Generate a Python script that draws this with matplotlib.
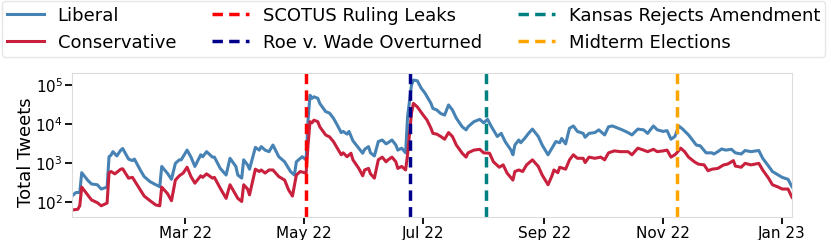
#!/usr/bin/env python3
import numpy as np
import pandas as pd
import matplotlib
matplotlib.use("Agg")
import matplotlib.pyplot as plt
import matplotlib.dates as mdates

# days since 2022-01-01 and log10(tweets)
lib_days = [1, 3, 5, 6, 9, 11, 14, 16, 19, 20, 21, 22, 24, 26, 27, 30, 32, 33, 36, 38,
            41, 44, 46, 47, 50, 52, 54, 56, 57, 60, 62, 64, 67, 68, 70, 73, 74, 77, 80, 82,
            85, 86, 88, 89, 91, 92, 95, 97, 98, 100, 102, 104, 107, 110, 113, 115, 116, 119, 121, 122,
            123, 124, 125, 127, 128, 131, 133, 135, 137, 139, 140, 142, 143, 145, 148, 150, 151, 153, 154, 156,
            158, 160, 162, 163, 165, 167, 168, 170, 172, 173, 175, 176, 178, 180, 182, 185, 186, 188, 190, 192,
            194, 196, 198, 201, 203, 204, 207, 210, 212, 214, 216, 219, 221, 223, 226, 227, 228, 230, 231, 233,
            235, 237, 240, 242, 245, 247, 249, 251, 252, 254, 256, 258, 260, 263, 264, 266, 269, 271, 274, 276,
            278, 281, 283, 286, 288, 291, 294, 296, 299, 301, 304, 306, 308, 310, 311, 312, 314, 317, 319, 321,
            323, 326, 329, 330, 332, 334, 336, 339, 341, 344, 346, 349, 353, 355, 358, 360, 363, 365, 368, 370]
lib_log = [2.15, 2.24, 2.24, 2.75, 2.56, 2.46, 2.44, 2.33, 2.38, 3.16, 3.20, 3.29, 3.18, 3.33, 3.37, 3.10, 3.06, 3.10, 2.82, 2.65,
           2.52, 2.44, 2.39, 2.91, 2.73, 2.58, 2.99, 3.08, 3.08, 3.33, 3.15, 2.91, 3.21, 3.16, 3.29, 3.15, 3.15, 2.86, 2.69, 3.12,
           2.91, 2.69, 2.61, 3.08, 2.95, 2.84, 3.40, 3.33, 3.42, 3.33, 3.29, 3.46, 3.16, 3.03, 2.78, 2.69, 3.03, 3.16, 3.08, 4.10,
           4.74, 4.66, 4.70, 4.66, 4.53, 4.32, 4.28, 4.15, 3.97, 3.78, 3.81, 3.74, 3.81, 3.57, 3.38, 3.25, 3.35, 3.42, 3.26, 3.18,
           3.55, 3.59, 3.49, 3.52, 3.59, 3.46, 3.33, 3.38, 3.26, 4.19, 5.00, 5.13, 5.11, 4.92, 4.79, 4.53, 4.40, 4.36, 4.27, 4.23,
           4.49, 4.36, 4.15, 3.93, 3.85, 3.93, 4.06, 4.12, 4.03, 4.12, 3.93, 3.68, 3.76, 3.55, 3.33, 3.21, 3.46, 3.59, 3.52, 3.63,
           3.76, 3.87, 3.68, 3.46, 3.21, 3.38, 3.55, 3.52, 3.63, 3.49, 3.89, 3.95, 3.81, 3.76, 3.66, 3.76, 3.78, 3.85, 3.72, 3.93,
           3.95, 3.89, 3.85, 3.78, 3.72, 3.87, 3.85, 3.76, 3.95, 3.85, 3.81, 3.83, 3.61, 3.68, 3.81, 3.95, 3.87, 3.72, 3.59, 3.46,
           3.44, 3.26, 3.26, 3.23, 3.29, 3.36, 3.33, 3.35, 3.26, 3.23, 3.32, 3.29, 3.32, 3.12, 2.92, 2.78, 2.69, 2.63, 2.58, 2.39]

con_days = [1, 4, 5, 6, 9, 11, 14, 16, 19, 20, 21, 23, 26, 27, 30, 32, 36, 38, 41, 44,
            46, 47, 50, 52, 54, 56, 58, 60, 62, 64, 67, 68, 70, 73, 74, 77, 80, 82, 85, 86,
            88, 89, 91, 92, 95, 97, 98, 100, 102, 104, 107, 110, 112, 114, 116, 118, 121, 122, 123, 124,
            125, 127, 128, 131, 133, 135, 137, 139, 140, 142, 144, 145, 148, 150, 151, 153, 154, 156, 158, 160,
            162, 163, 165, 167, 168, 170, 172, 173, 175, 176, 178, 181, 183, 185, 186, 188, 190, 192, 194, 196,
            198, 201, 203, 204, 207, 210, 212, 215, 217, 220, 222, 224, 227, 228, 230, 232, 234, 237, 240, 242,
            245, 247, 248, 250, 251, 254, 256, 258, 260, 263, 264, 266, 269, 272, 274, 276, 279, 282, 286, 288,
            291, 294, 296, 299, 301, 304, 306, 308, 310, 311, 313, 315, 317, 320, 322, 325, 327, 329, 332, 335,
            337, 340, 341, 344, 346, 349, 353, 355, 358, 360, 363, 365, 368, 370]
con_log = [1.79, 1.81, 1.90, 2.38, 2.18, 2.05, 1.98, 1.90, 1.97, 2.75, 2.78, 2.72, 2.84, 2.85, 2.61, 2.63, 2.31, 2.15, 2.03, 1.92,
           1.90, 2.38, 2.21, 2.03, 2.56, 2.67, 2.74, 2.89, 2.65, 2.48, 2.67, 2.63, 2.72, 2.61, 2.63, 2.35, 2.09, 2.44, 2.18, 2.09,
           2.01, 2.44, 2.33, 2.18, 2.84, 2.78, 2.82, 2.74, 2.82, 2.82, 2.65, 2.56, 2.31, 2.15, 2.69, 2.78, 2.74, 3.46, 4.06, 4.03,
           4.10, 4.06, 3.93, 3.72, 3.67, 3.55, 3.38, 3.21, 3.26, 3.16, 3.25, 3.08, 2.86, 2.67, 2.82, 2.86, 2.72, 2.61, 3.08, 3.15,
           3.03, 3.08, 3.15, 3.03, 2.86, 2.91, 2.82, 3.21, 4.28, 4.53, 4.44, 4.23, 4.10, 3.89, 3.76, 3.74, 3.68, 3.61, 3.78, 3.68,
           3.46, 3.25, 3.15, 3.26, 3.33, 3.35, 3.26, 3.25, 3.03, 2.89, 2.95, 2.74, 2.56, 2.78, 2.82, 2.78, 2.95, 3.08, 2.91, 2.69,
           2.44, 2.67, 2.82, 2.75, 2.89, 2.84, 3.08, 3.21, 3.12, 3.12, 3.01, 3.15, 3.12, 3.15, 3.08, 3.26, 3.31, 3.29, 3.29, 3.21,
           3.38, 3.33, 3.29, 3.35, 3.29, 3.31, 3.33, 3.15, 3.21, 3.26, 3.38, 3.29, 3.15, 3.03, 2.97, 2.95, 2.80, 2.84, 2.86, 2.95,
           2.97, 3.06, 2.92, 2.89, 2.99, 2.95, 2.99, 2.82, 2.61, 2.44, 2.38, 2.33, 2.33, 2.12]

events = ["SCOTUS Ruling Leaks", "Roe v. Wade Overturned", "Kansas Rejects Amendment", "Midterm Elections"]
event_dates = ["2022-05-02", "2022-06-24", "2022-08-02", "2022-11-08"]
event_colors = ["#ff0000", "#00008b", "#008080", "#ffa500"]

start = pd.Timestamp("2022-01-01")
lib_x = start + pd.to_timedelta(lib_days, unit="D")
con_x = start + pd.to_timedelta(con_days, unit="D")
lib_y = np.power(10.0, lib_log)
con_y = np.power(10.0, con_log)

fig = plt.figure(figsize=(8.31, 2.4), dpi=100)
ax = fig.add_axes([0.0866, 0.096, 0.8664, 0.6])

h1, = ax.plot(lib_x, lib_y, color="#4682b4", lw=2.2, label="Liberal")
h2, = ax.plot(con_x, con_y, color="#c8203d", lw=2.2, label="Conservative")
ev_handles = []
for name, d, c in zip(events, event_dates, event_colors):
    h = ax.axvline(pd.Timestamp(d), color=c, lw=2.5, ls=(0, (3, 1.8)), label=name)
    ev_handles.append(h)

ax.set_yscale("log")
ax.set_ylim(41, 2.05e5)
ax.set_xlim(lib_x[0], lib_x[-1])
ax.yaxis.set_minor_locator(matplotlib.ticker.NullLocator())
ax.xaxis.set_major_locator(mdates.MonthLocator(bymonth=[1, 3, 5, 7, 9, 11]))
ax.xaxis.set_major_formatter(mdates.DateFormatter("%b %y"))
ax.tick_params(axis="both", labelsize=11, length=5, width=1.3, color="black", pad=1.5)
ax.set_ylabel("Total Tweets", fontsize=13)
ax.yaxis.set_label_coords(-0.052, 0.45)
for s in ax.spines.values():
    s.set_color("#dcdcdc")

order = [h1, h2, ev_handles[0], ev_handles[1], ev_handles[2], ev_handles[3]]
fig.legend(handles=order, ncol=3, loc="upper left", bbox_to_anchor=(0.002, 0.995),
           fontsize=13, frameon=True, edgecolor="#e0e0e0", handlelength=2.05,
           handletextpad=0.75, columnspacing=2.0, borderaxespad=0.0,
           borderpad=0.3, labelspacing=0.5)

fig.savefig("out.png", dpi=100)
